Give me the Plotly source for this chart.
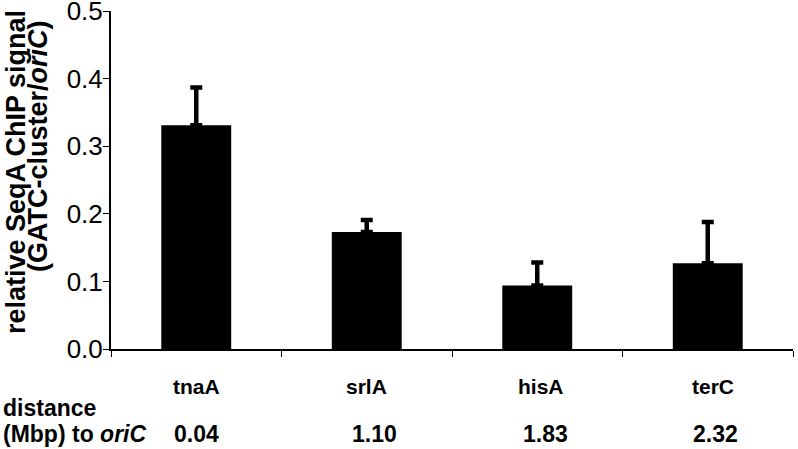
import plotly.graph_objects as go

genes = ["tnaA", "srlA", "hisA", "terC"]
distances = ["0.04", "1.10", "1.83", "2.32"]
signal = [0.331, 0.173, 0.094, 0.127]
err_plus = [0.056, 0.018, 0.034, 0.061]
y_ticks = [0.0, 0.1, 0.2, 0.3, 0.4, 0.5]
y_ticktext = ["0.0", "0.1", "0.2", "0.3", "0.4", "0.5"]

FONT = "Arial, Liberation Sans, Helvetica, sans-serif"
xpos = list(range(len(genes)))

W, H = 798, 449
L, R, T, B = 111, 5, 11, 100

fig = go.Figure()
fig.add_trace(go.Bar(
    x=xpos, y=signal,
    marker=dict(color="black", line=dict(color="black", width=0)),
    width=0.41,
    error_y=dict(type="data", symmetric=False, array=err_plus,
                 arrayminus=[0] * len(signal),
                 color="black", thickness=4.5, width=6),
    showlegend=False,
))

fig.update_layout(
    width=W, height=H,
    margin=dict(l=L, r=R, t=T, b=B, pad=0),
    paper_bgcolor="white", plot_bgcolor="white",
    font=dict(family=FONT, color="black"),
    bargap=0.59,
)
fig.update_xaxes(
    range=[-0.5, len(genes) - 0.5],
    tickvals=[i + 0.5 for i in range(-1, len(genes))],
    ticktext=[""] * (len(genes) + 1),
    ticks="outside", ticklen=6, tickwidth=1, tickcolor="black",
    showline=True, linecolor="black", linewidth=2,
    showgrid=False, zeroline=False, automargin=False,
)
fig.update_yaxes(
    range=[0, 0.5],
    tickvals=y_ticks, ticktext=y_ticktext,
    ticks="outside", ticklen=6, tickwidth=1, tickcolor="black",
    tickfont=dict(size=26, family=FONT, color="black"),
    ticklabeloverflow="allow", ticklabelstandoff=-5,
    showline=True, linecolor="black", linewidth=2,
    showgrid=False, zeroline=False, automargin=False,
)

PB = H - B  # plot bottom in px


def ys(y_ref):
    return PB - y_ref


def xs(x_ref):
    return x_ref - L


# y-axis title lines
fig.add_annotation(text="<b>relative SeqA ChIP signal</b>", textangle=-90,
                   xref="paper", yref="paper", x=0, y=0, xanchor="center", yanchor="middle",
                   xshift=xs(16), yshift=ys(172),
                   showarrow=False, font=dict(size=27, family=FONT, color="black"))
fig.add_annotation(text="<b>(GATC-cluster/<i>oriC</i>)</b>", textangle=-90,
                   xref="paper", yref="paper", x=0, y=0, xanchor="center", yanchor="middle",
                   xshift=xs(38), yshift=ys(146),
                   showarrow=False, font=dict(size=27, family=FONT, color="black"))

# gene labels and distances
gene_shift = [0, 0, 4, 5]
dist_shift = [0, 8, 8, 8]
for i, (g, d) in enumerate(zip(genes, distances)):
    fig.add_annotation(text=f"<b>{g}</b>", x=i, xref="x", y=0, yref="paper",
                       yanchor="middle", yshift=ys(386), xshift=gene_shift[i],
                       showarrow=False, font=dict(size=21, family=FONT, color="black"))
    fig.add_annotation(text=f"<b>{d}</b>", x=i, xref="x", y=0, yref="paper",
                       yanchor="middle", yshift=ys(434), xshift=dist_shift[i],
                       showarrow=False, font=dict(size=23, family=FONT, color="black"))

fig.add_annotation(text="<b>distance</b>", xref="paper", x=0, xshift=xs(1), xanchor="left",
                   yref="paper", y=0, yanchor="middle", yshift=ys(408),
                   showarrow=False, font=dict(size=23, family=FONT, color="black"))
fig.add_annotation(text="<b>(Mbp) to <i>oriC</i></b>", xref="paper", x=0, xshift=xs(1), xanchor="left",
                   yref="paper", y=0, yanchor="middle", yshift=ys(434),
                   showarrow=False, font=dict(size=23, family=FONT, color="black"))

fig.write_html("out.html", config={"displayModeBar": False},
               post_script="document.body.style.margin='0';document.body.style.overflow='hidden';")
